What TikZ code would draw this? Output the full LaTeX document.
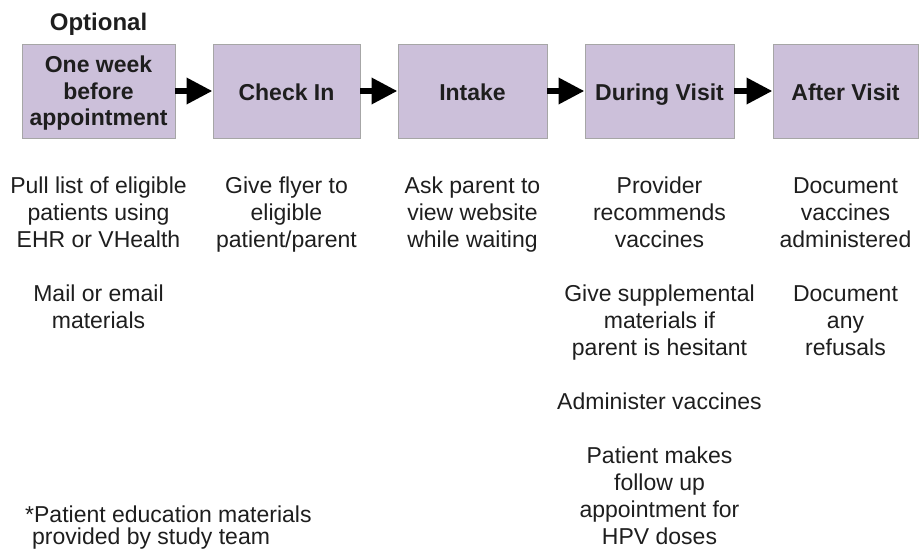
\documentclass[tikz,border=0pt]{standalone}
\usepackage{fontspec}
\setmainfont{Liberation Sans}
\usetikzlibrary{arrows.meta}
\definecolor{boxfill}{HTML}{CCC0DA}
\definecolor{boxline}{HTML}{A6A6A6}
\definecolor{ink}{HTML}{1E1E1E}
\tikzset{
  stage/.style={draw=boxline, line width=1pt, fill=boxfill, minimum height=94pt,
    inner sep=0pt, align=center, text=ink, font=\fontsize{23}{26.5}\selectfont\bfseries},
  stageone/.style={stage, text height=18pt, text depth=0pt},
  body/.style={anchor=base, inner sep=0pt, align=center, text=ink,
    font=\fontsize{23}{27}\selectfont},
  flow/.style={line width=6.5pt, black, -{Triangle[length=26pt 0 0, width=25pt 0 0]}, shorten <=-0.5pt}
}
\begin{document}
\begin{tikzpicture}[x=1pt,y=-1pt]
\useasboundingbox (0,0) rectangle (919,552);
\node[anchor=base, inner sep=0pt, text=ink, font=\fontsize{24}{28}\selectfont\bfseries] (opt) at (98.5,30) {Optional};
\node[stage, minimum width=153pt, text depth=0pt] (b1) at (98.5,91) {One week\\before\\appointment};
\node[stageone, minimum width=147pt] (b2) at (286.5,91) {Check In};
\node[stageone, minimum width=149pt] (b3) at (472.5,91) {Intake};
\node[stageone, minimum width=149pt] (b4) at (659.5,91) {During Visit};
\node[stageone, minimum width=145pt] (b5) at (845.5,91) {After Visit};
\draw[flow] (b1.east) -- (b2.west);
\draw[flow] (b2.east) -- (b3.west);
\draw[flow] (b3.east) -- (b4.west);
\draw[flow] (b4.east) -- (b5.west);
% anchor=base of a multi-line node is the baseline of its last line
\node[body] (c1a) at (98.5,247) {Pull list of eligible\\patients using\\EHR or VHealth};
\node[body] (c1b) at (98.5,328) {Mail or email\\materials};
\node[body] (c2) at (286.5,247) {Give flyer to\\eligible\\patient/parent};
\node[body] (c3) at (472.5,247) {Ask parent to\\view website\\while waiting};
\node[body] (c4a) at (659.5,247) {Provider\\recommends\\vaccines};
\node[body] (c4b) at (659.5,355) {Give supplemental\\materials if\\parent is hesitant};
\node[body] (c4c) at (659.5,409) {Administer vaccines};
\node[body] (c4d) at (659.5,544) {Patient makes\\follow up\\appointment for\\HPV doses};
\node[body] (c5a) at (845.5,247) {Document\\vaccines\\administered};
\node[body] (c5b) at (845.5,355) {Document\\any\\refusals};
\node[anchor=base west, inner sep=0pt, align=left, text=ink, font=\fontsize{23}{22}\selectfont] (note) at (25,544) {*Patient education materials\\\hspace*{7pt}provided by study team};
\end{tikzpicture}
\end{document}
